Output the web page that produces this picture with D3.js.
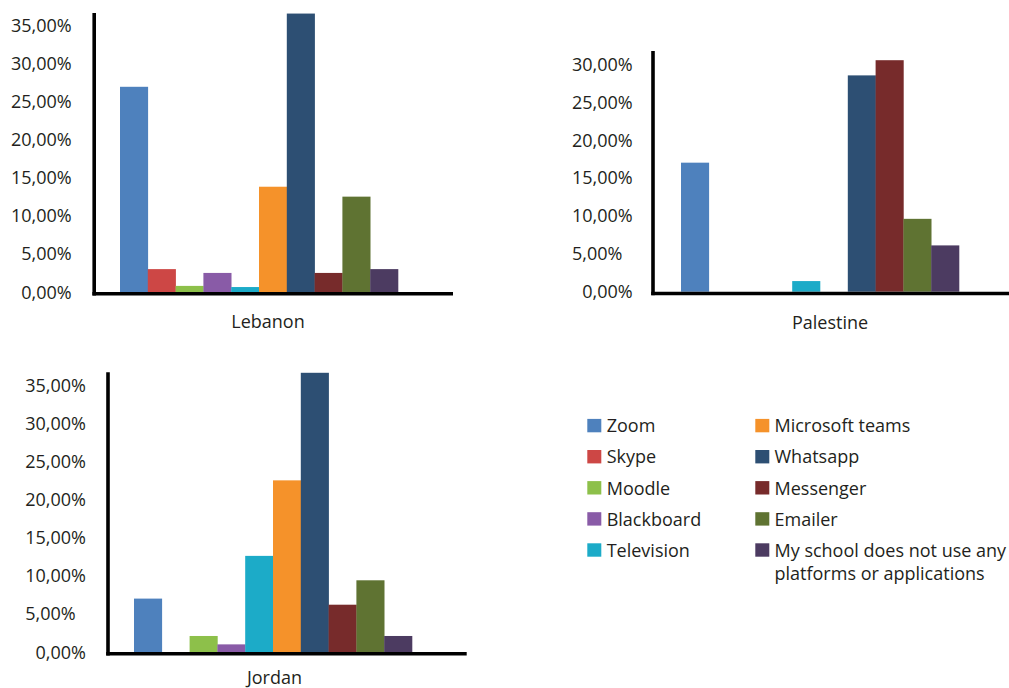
<!DOCTYPE html>
<html>
<head>
<meta charset="utf-8">
<script src="https://cdn.jsdelivr.net/npm/d3@7"></script>
<style>
  html, body { margin: 0; padding: 0; background: #fff; }
  svg { display: block; }
</style>
</head>
<body>
<svg id="chart" width="1009" height="688"></svg>
<script>
const categories = ["Zoom", "Skype", "Moodle", "Blackboard", "Television",
  "Microsoft teams", "Whatsapp", "Messenger", "Emailer",
  "My school does not use any platforms or applications"];
const legendLabels = [["Zoom"], ["Skype"], ["Moodle"], ["Blackboard"], ["Television"],
  ["Microsoft teams"], ["Whatsapp"], ["Messenger"], ["Emailer"],
  ["My school does not use any", "platforms or applications"]];
const colors = ["#4e81bd", "#cd4745", "#8dc04a", "#895ba7", "#1cabc8",
  "#f5922a", "#2d4f73", "#772b2b", "#5f7332", "#4c3b61"];

const lebanonValues   = [26.9, 3.0, 0.8, 2.5, 0.65, 13.8, 36.5, 2.5, 12.5, 3.0];
const palestineValues = [17.0, 0, 0, 0, 1.4, 0, 28.5, 30.5, 9.6, 6.1];
const jordanValues    = [7.0, 0, 2.1, 1.0, 12.6, 22.5, 36.6, 6.2, 9.4, 2.1];

const lebanonTicks   = [0, 5, 10, 15, 20, 25, 30, 35];
const palestineTicks = [0, 5, 10, 15, 20, 25, 30];
const jordanTicks    = [0, 5, 10, 15, 20, 25, 30, 35];

const countries = ["Lebanon", "Palestine", "Jordan"];

const FONT = "'Open Sans', 'Noto Sans', sans-serif";
const TEXT = "#231f20";
const FS = 18;

const panels = [
  { name: countries[0], values: lebanonValues, ticks: lebanonTicks,
    axisX: 94.2, y0: 292, refVal: 35, yRef: 25, top: 13, right: 453,
    band: [120, 398], tickRight: 71.7, label: [268, 328.3], quirk: false },
  { name: countries[1], values: palestineValues, ticks: palestineTicks,
    axisX: 653, y0: 291.7, refVal: 30, yRef: 64, top: 51, right: 1009,
    band: [681, 959], tickRight: 632.7, label: [830, 329], quirk: true },
  { name: countries[2], values: jordanValues, ticks: jordanTicks,
    axisX: 108, y0: 652, refVal: 35, yRef: 385, top: 372.3, right: 466.7,
    band: [134, 412], tickRight: 86, label: [274.5, 683.5], quirk: true }
];

const svg = d3.select("#chart");
const fmt = v => v.toFixed(2).replace(".", ",") + "%";

panels.forEach(p => {
  const g = svg.append("g");
  const y = d3.scaleLinear().domain([0, p.refVal]).range([p.y0, p.yRef]);
  const x = d3.scaleBand().domain(categories).range(p.band).padding(0);

  const data = categories.map((c, i) => ({ c, v: p.values[i], col: colors[i] }))
    .filter(d => d.v > 0);

  g.selectAll("rect.bar").data(data).enter().append("rect")
    .attr("class", "bar")
    .attr("x", d => x(d.c))
    .attr("width", x.bandwidth() + 0.3)
    .attr("y", d => y(d.v))
    .attr("height", d => y(0) - y(d.v))
    .attr("fill", d => d.col);

  // axes lines
  g.append("line")
    .attr("x1", p.axisX).attr("x2", p.axisX)
    .attr("y1", p.top).attr("y2", p.y0 + 3.5)
    .attr("stroke", "#000").attr("stroke-width", 3.6);
  g.append("line")
    .attr("x1", p.axisX - 1.8).attr("x2", p.right)
    .attr("y1", p.y0 + 1.75).attr("y2", p.y0 + 1.75)
    .attr("stroke", "#000").attr("stroke-width", 3.6);

  // tick labels
  const ax = g.append("g")
    .attr("transform", `translate(${p.tickRight},0)`)
    .call(d3.axisLeft(y).tickValues(p.ticks).tickSize(0).tickPadding(0).tickFormat(fmt));
  ax.select(".domain").remove();
  ax.attr("font-family", FONT).attr("font-size", FS);
  ax.selectAll("text").attr("fill", TEXT).attr("dy", "0.34em");

  if (p.quirk) {
    const widths = [];
    ax.selectAll("text").each(function () { widths.push(this.getComputedTextLength()); });
    const wMax = d3.max(widths);
    ax.selectAll(".tick").filter(d => d === 5).select("text")
      .attr("text-anchor", "start").attr("x", -wMax);
  }

  g.append("text")
    .attr("x", p.label[0]).attr("y", p.label[1])
    .attr("text-anchor", "middle")
    .attr("font-family", FONT).attr("font-size", FS)
    .attr("fill", TEXT)
    .text(p.name);
});

// legend
const legend = svg.append("g").attr("font-family", FONT).attr("font-size", FS).attr("fill", TEXT);
const colX = [587.3, 755.3];
const textX = [606.7, 774.5];
const rowY0 = 432.3, rowStep = 31.1, lineStep = 23.3;
legendLabels.forEach((lines, i) => {
  const col = Math.floor(i / 5), row = i % 5;
  const base = rowY0 + row * rowStep;
  legend.append("rect")
    .attr("x", colX[col]).attr("y", base - 13.4)
    .attr("width", 14).attr("height", 13.4)
    .attr("fill", colors[i]);
  const t = legend.append("text").attr("x", textX[col]).attr("y", base);
  lines.forEach((ln, k) => {
    t.append("tspan").attr("x", textX[col]).attr("y", base + k * lineStep).text(ln);
  });
});
</script>
</body>
</html>
